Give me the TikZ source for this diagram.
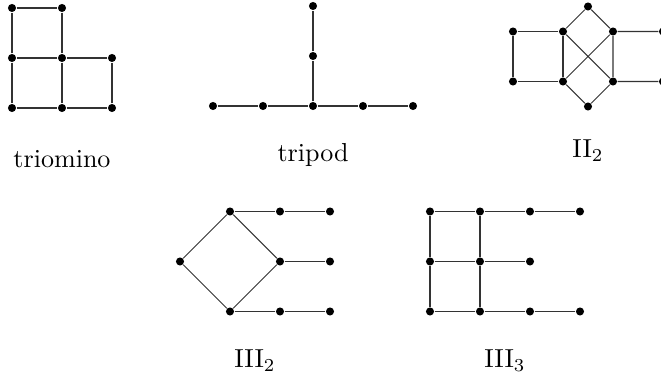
\documentclass[tikz,border=0pt]{standalone}
\usetikzlibrary{positioning}

\begin{document}
\begin{tikzpicture}[
    x=0.675cm, y=0.675cm,
    vtx/.style ={circle, fill=black, inner sep=0pt, minimum size=3.1pt},
    edge/.style={line width=0.4pt, black!80},
    lbl/.style ={anchor=base, inner sep=0pt}
  ]
  \useasboundingbox (0,0) rectangle (13.22,7.56);

  % ---- triomino --------------------------------------------------------
  \node[vtx] (a1) at (0.24, 7.4) {};
  \node[vtx] (a2) at (1.24, 7.4) {};
  \foreach \i/\x in {1/0.24, 2/1.24, 3/2.24} {
    \node[vtx] (b\i) at (\x, 6.4) {};
    \node[vtx] (c\i) at (\x, 5.4) {};
  }
  \draw[edge] (a1) -- (a2) -- (b2) -- (b1) -- (a1);
  \draw[edge] (b1) -- (c1) -- (c2) -- (c3) -- (b3) -- (b2) -- (c2);
  \node[lbl] (lbltri) at (1.24, 4.2) {triomino};

  % ---- tripod ----------------------------------------------------------
  \foreach \i in {1,...,5}
    \node[vtx] (h\i) at (3.26+\i, 5.44) {};
  \node[vtx] (v1) at (6.26, 6.44) {};
  \node[vtx] (v2) at (6.26, 7.44) {};
  \draw[edge] (h1) -- (h2) -- (h3) -- (h4) -- (h5);
  \draw[edge] (h3) -- (v1) -- (v2);
  \node[lbl] (lbltrip) at (6.26, 4.32) {tripod};

  % ---- II_2 ------------------------------------------------------------
  \foreach \i in {1,...,4} {
    \node[vtx] (p\i) at (9.26+\i, 6.93) {};
    \node[vtx] (q\i) at (9.26+\i, 5.93) {};
  }
  \node[vtx] (ptop) at (11.76, 7.43) {};
  \node[vtx] (pbot) at (11.76, 5.43) {};
  \draw[edge] (p1) -- (p2) -- (q2) -- (q1) -- (p1);
  \draw[edge] (p2) -- (q3) (q2) -- (p3) (p3) -- (q3);
  \draw[edge] (p2) -- (ptop) -- (p3) -- (p4);
  \draw[edge] (q2) -- (pbot) -- (q3) -- (q4);
  \node[lbl] (lblii) at (11.76, 4.4) {II$_2$};

  % ---- III_2 -----------------------------------------------------------
  \node[vtx] (w)  at (3.6, 2.33) {};
  \foreach \i/\x in {1/4.6, 2/5.6, 3/6.6} {
    \node[vtx] (u\i) at (\x, 3.33) {};
    \node[vtx] (d\i) at (\x, 1.33) {};
  }
  \node[vtx] (m1) at (5.6, 2.33) {};
  \node[vtx] (m2) at (6.6, 2.33) {};
  \draw[edge] (w) -- (u1) -- (m1) -- (d1) -- (w);
  \draw[edge] (u1) -- (u2) -- (u3);
  \draw[edge] (m1) -- (m2);
  \draw[edge] (d1) -- (d2) -- (d3);
  \node[lbl] (lbliiib) at (5.1, 0.2) {III$_2$};

  % ---- III_3 -----------------------------------------------------------
  \foreach \i/\x in {1/8.6, 2/9.6, 3/10.6, 4/11.6} {
    \node[vtx] (r\i) at (\x, 3.33) {};
    \node[vtx] (s\i) at (\x, 1.33) {};
  }
  \foreach \i/\x in {1/8.6, 2/9.6, 3/10.6}
    \node[vtx] (k\i) at (\x, 2.33) {};
  \draw[edge] (r1) -- (r2) -- (r3) -- (r4);
  \draw[edge] (k1) -- (k2) -- (k3);
  \draw[edge] (s1) -- (s2) -- (s3) -- (s4);
  \draw[edge] (r1) -- (k1) -- (s1);
  \draw[edge] (r2) -- (k2) -- (s2);
  \node[lbl] (lbliiic) at (10.1, 0.2) {III$_3$};

\end{tikzpicture}
\end{document}
